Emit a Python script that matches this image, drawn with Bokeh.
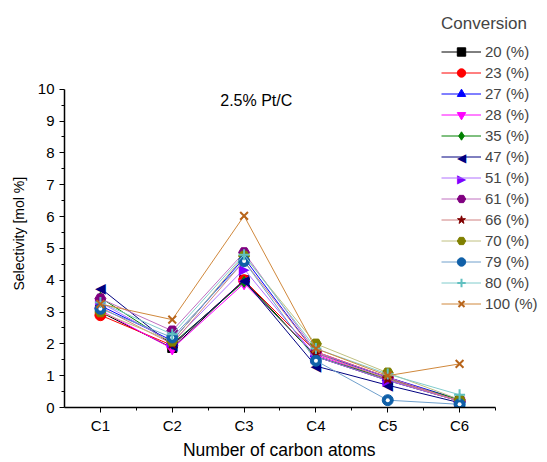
import math
from bokeh.plotting import figure
from bokeh.models import (Legend, LegendItem, Label, FixedTicker, Range1d, ColumnDataSource)
from bokeh.core.properties import value
from bokeh.embed import file_html
from bokeh.resources import INLINE

categories = ["C1", "C2", "C3", "C4", "C5", "C6"]
conversions = ["20", "23", "27", "28", "35", "47", "51", "61", "66", "70", "79", "80", "100"]

s20 = [3.00, 1.87, 4.00, 1.60, 0.85, 0.20]
s23 = [2.90, 1.95, 4.00, 1.75, 0.95, 0.20]
s27 = [3.20, 2.10, 4.70, 1.70, 0.95, 0.25]
s28 = [3.05, 1.85, 3.90, 1.65, 0.90, 0.20]
s35 = [3.45, 2.00, 3.95, 1.60, 0.90, 0.25]
s47 = [3.75, 1.95, 4.00, 1.30, 0.70, 0.15]
s51 = [3.30, 2.05, 4.35, 1.60, 0.85, 0.20]
s61 = [3.42, 2.41, 4.87, 1.75, 0.95, 0.20]
s66 = [3.15, 2.00, 4.60, 1.70, 0.90, 0.20]
s70 = [3.00, 2.08, 4.76, 2.00, 1.09, 0.25]
s79 = [3.10, 2.20, 4.60, 1.47, 0.23, 0.10]
s80 = [3.30, 2.30, 4.80, 1.85, 1.05, 0.40]
s100 = [3.25, 2.76, 6.02, 1.85, 1.00, 1.37]

series = [s20, s23, s27, s28, s35, s47, s51, s61, s66, s70, s79, s80, s100]

marker_colors = ["#000000", "#FF0000", "#0000FF", "#FF00FF", "#008000", "#000080",
                 "#8000FF", "#800080", "#800000", "#808000", "#1060A8", "#60C0C0", "#B8651B"]
line_colors = ["#000000", "#FF0000", "#0000FF", "#FF00FF", "#008000", "#000080",
               "#B070FF", "#C070C0", "#D08080", "#C0C080", "#70A0CC", "#80CCCC", "#D0883C"]
TRI_L, TRI_R = "\u25C0", "\u25B6"
markers = ["square", "circle", "triangle", "inverted_triangle", "diamond", TRI_L,
           TRI_R, "hex", "star", "hex", "circle", "cross", "x"]
sizes = [9, 11, 11, 11, 11, 11, 11, 11, 11, 11, 11, 11, 11]

FONT = "Liberation Sans"
xs = list(range(1, len(categories) + 1))
NB = "\u00a0"

p = figure(width=547, height=462, output_backend="svg", toolbar_location=None,
           x_range=Range1d(0.5, 7.224), y_range=Range1d(0, 12.63),
           min_border_left=64, min_border_right=0, min_border_top=5, min_border_bottom=54)
p.outline_line_color = None
p.xgrid.visible = False
p.ygrid.visible = False
p.background_fill_color = "white"
p.border_fill_color = "white"

p.xaxis.ticker = FixedTicker(ticks=xs, minor_ticks=[1.5, 2.5, 3.5, 4.5, 5.5, 6.5])
p.xaxis.major_label_overrides = {i + 1: c for i, c in enumerate(categories)}
p.xaxis.bounds = (0.5, 6.5)
p.yaxis.ticker = FixedTicker(ticks=list(range(0, 11)), minor_ticks=[i + 0.5 for i in range(10)])
p.yaxis.bounds = (0, 10)
for ax in (p.xaxis[0], p.yaxis[0]):
    ax.axis_line_color = "black"
    ax.axis_line_width = 1.5
    ax.major_tick_line_color = "black"
    ax.minor_tick_line_color = "black"
    ax.major_tick_in = 0
    ax.major_tick_out = 5
    ax.minor_tick_in = 0
    ax.minor_tick_out = 3
    ax.major_label_text_font = FONT
    ax.major_label_text_font_size = "15px"
    ax.major_label_text_color = "black"
    ax.axis_label_text_font = FONT
    ax.axis_label_text_font_style = "normal"
    ax.axis_label_text_color = "black"
p.xaxis.axis_label = "Number of carbon atoms" + NB * 11
p.xaxis.axis_label_text_font_size = "17.5px"
p.xaxis.axis_label_standoff = 3
p.xaxis.major_label_standoff = 4
p.yaxis.axis_label = "Selectivity [mol %]" + NB * 14
p.yaxis.axis_label_text_font_size = "14px"
p.yaxis.axis_label_standoff = 8

items = []
for i, ys in enumerate(series):
    src = ColumnDataSource(dict(x=xs, y=ys))
    ln = p.line("x", "y", source=src, line_color=line_colors[i], line_width=1)
    if markers[i] in (TRI_L, TRI_R):
        sc = p.text("x", "y", source=src, text=value(markers[i]), text_color=marker_colors[i],
                    text_font=value("DejaVu Sans"), text_font_size="14px",
                    text_align="center", text_baseline="middle")
    else:
        sc = p.scatter("x", "y", source=src, marker=markers[i], size=sizes[i],
                       fill_color=marker_colors[i], line_color=marker_colors[i],
                       line_width=2 if markers[i] in ("x", "cross") else 1)
    if conversions[i] == "79":
        p.scatter("x", "y", source=src, marker="circle", size=4, fill_color="white",
                  line_color=None)
    items.append(LegendItem(label=f"{conversions[i]} (%)", renderers=[ln, sc]))

legend = Legend(items=items, location=(377, 93), title="Conversion",
                title_text_font=FONT, title_text_font_size="17px",
                title_text_font_style="normal", title_standoff=7,
                label_text_font=FONT, label_text_font_size="15px",
                glyph_width=40, glyph_height=21, label_height=21, spacing=0,
                label_standoff=4, padding=4, margin=0,
                background_fill_alpha=0, border_line_color=None)
p.add_layout(legend, "center")

# legend symbols for the left/right triangles (text glyphs draw no legend symbol)
for idx, sy in ((5, 250), (6, 229)):
    p.add_layout(Label(x=397, y=sy, x_units="screen", y_units="screen", text=markers[idx],
                       text_color=marker_colors[idx], text_font="DejaVu Sans",
                       text_font_size="12px", text_align="center", text_baseline="middle"))

title = Label(x=3.17, y=9.65, text="2.5% Pt/C", text_font=FONT, text_font_size="16px",
              text_align="center", text_baseline="middle", text_color="black")
p.add_layout(title)

open("out.html", "w").write(file_html(p, INLINE))
